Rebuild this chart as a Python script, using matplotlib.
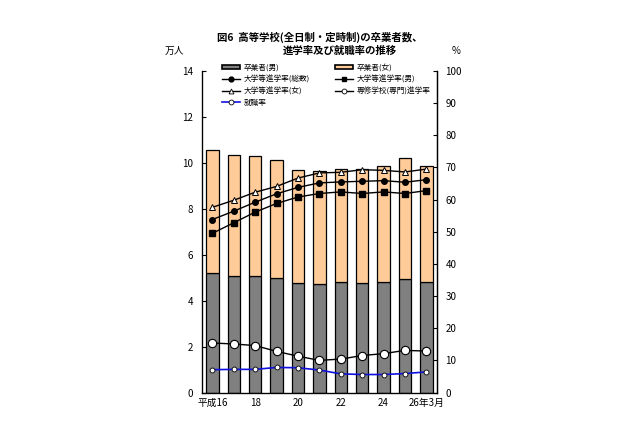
import matplotlib
matplotlib.use('Agg')
import matplotlib.pyplot as plt
from matplotlib.patches import Patch
from matplotlib.lines import Line2D

plt.rcParams['font.family'] = ['Noto Sans CJK JP', 'DejaVu Sans']

years = ['平成16', '17', '18', '19', '20', '21', '22', '23', '24', '25', '26年3月']
tick_labels = ['平成16', '', '18', '', '20', '', '22', '', '24', '', '26年3月']

# 卒業者数 (万人)
grad_male = [5.19, 5.09, 5.08, 4.97, 4.76, 4.73, 4.80, 4.78, 4.83, 4.95, 4.83]
grad_total = [10.58, 10.33, 10.29, 10.11, 9.68, 9.63, 9.75, 9.75, 9.88, 10.22, 9.88]
grad_female = [t - m for t, m in zip(grad_total, grad_male)]

# 進学率・就職率 (%)
univ_total = [53.8, 56.4, 59.2, 61.8, 63.8, 65.2, 65.5, 65.7, 65.9, 65.4, 66.2]
univ_male = [49.5, 52.8, 56.1, 58.8, 60.8, 61.9, 62.4, 61.9, 62.4, 61.9, 62.8]
univ_female = [57.6, 59.8, 62.3, 64.1, 66.7, 68.3, 68.5, 69.3, 69.1, 68.6, 69.5]
senshu = [15.4, 15.1, 14.6, 12.8, 11.3, 10.0, 10.4, 11.5, 12.1, 13.1, 12.9]
employ = [7.1, 7.2, 7.2, 7.8, 7.7, 7.0, 5.8, 5.6, 5.6, 5.9, 6.4]

male_color = '#808080'
female_color = '#ffcc99'
blue = '#1010e0'

fig = plt.figure(figsize=(6.4, 4.26), dpi=100)
ax = fig.add_axes([0.315, 0.0786, 0.368, 0.7547])
x = list(range(len(years)))

ax.bar(x, grad_male, width=0.58, color=male_color, edgecolor='black', linewidth=0.9, zorder=2)
ax.bar(x, grad_female, width=0.58, bottom=grad_male, color=female_color,
       edgecolor='black', linewidth=0.9, zorder=2)
ax.set_xlim(-0.5, len(years) - 0.5)
ax.set_ylim(0, 14)
ax.set_yticks(range(0, 15, 2))
ax.set_xticks(x)
ax.set_xticklabels(tick_labels)
ax.tick_params(axis='y', direction='in', length=3, labelsize=7, pad=6)
ax.tick_params(axis='x', length=0, labelsize=7, pad=4)
ax.spines['top'].set_visible(False)
for s in ['left', 'bottom', 'right']:
    ax.spines[s].set_linewidth(0.9)

ax2 = ax.twinx()
ax2.set_ylim(0, 100)
ax2.set_yticks(range(0, 101, 10))
ax2.tick_params(axis='y', direction='in', length=3, labelsize=7, pad=6)
ax2.spines['top'].set_visible(False)
ax2.spines['right'].set_linewidth(0.9)

lw = 1.0
ax2.plot(x, univ_female, color='black', lw=lw, marker='^', ms=4, mfc='white', mec='black', mew=0.7, zorder=3)
ax2.plot(x, univ_total, color='black', lw=lw, marker='o', ms=4, mfc='black', mec='black', zorder=3)
ax2.plot(x, univ_male, color='black', lw=lw, marker='s', ms=4, mfc='black', mec='black', zorder=3)
ax2.plot(x, senshu, color='black', lw=lw, marker='o', ms=6, mfc='white', mec='black', mew=0.8, zorder=3)
ax2.plot(x, employ, color=blue, lw=1.2, marker='o', ms=3.5, mfc='white', mec='black', mew=0.6, zorder=3)

handles = [
    Patch(facecolor=male_color, edgecolor='black', linewidth=1.2),
    Line2D([], [], color='black', lw=lw, marker='o', ms=3.5, mfc='black'),
    Line2D([], [], color='black', lw=lw, marker='^', ms=3.5, mfc='white', mew=0.6),
    Line2D([], [], color=blue, lw=1.2, marker='o', ms=3.5, mfc='white', mec='black', mew=0.6),
    Patch(facecolor=female_color, edgecolor='black', linewidth=1.2),
    Line2D([], [], color='black', lw=lw, marker='s', ms=3.5, mfc='black'),
    Line2D([], [], color='black', lw=lw, marker='o', ms=3.5, mfc='white', mew=0.6),
]
labels = ['卒業者(男)', '大学等進学率(総数)', '大学等進学率(女)', '就職率',
          '卒業者(女)', '大学等進学率(男)', '専修学校(専門)進学率']
fig.legend(handles, labels, ncol=2, frameon=False, fontsize=5.5,
           loc='upper left', bbox_to_anchor=(0.342, 0.857),
           handlelength=2.4, handleheight=0.45, handletextpad=0.4,
           columnspacing=3.3, labelspacing=0.45, borderaxespad=0)

fig.text(0.5, 0.913, '図6  高等学校(全日制・定時制)の卒業者数、', ha='center', va='center',
         fontsize=7.5, fontweight='bold')
fig.text(0.531, 0.88, '進学率及び就職率の推移', ha='center', va='center',
         fontsize=7.5, fontweight='bold')
fig.text(0.273, 0.88, '万人', ha='center', va='center', fontsize=7)
fig.text(0.713, 0.88, '%', ha='center', va='center', fontsize=7)

fig.savefig('out.png', dpi=100, facecolor='white')
